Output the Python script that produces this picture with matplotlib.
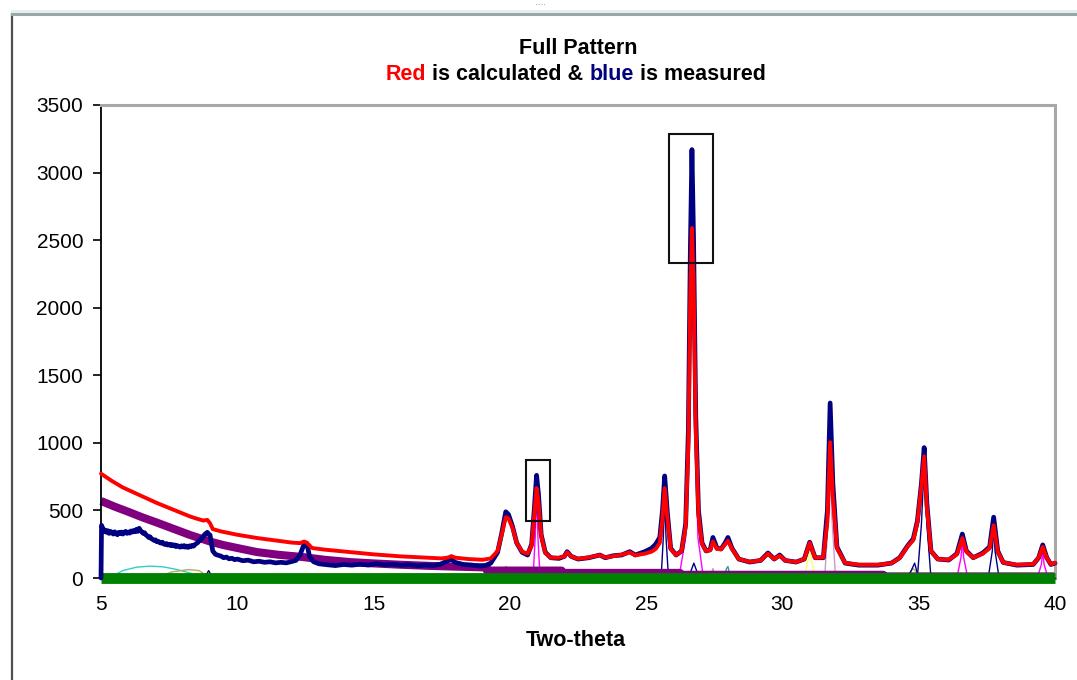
import matplotlib
matplotlib.use("Agg")
import matplotlib.pyplot as plt
from matplotlib.patches import Rectangle
from matplotlib.lines import Line2D

plt.rcParams['font.family'] = ['Liberation Sans', 'DejaVu Sans']

# ---- measured pattern (blue) ----
tt_meas = [5.00, 5.02, 5.06, 5.10, 5.15, 5.20, 5.25, 5.30, 5.35, 5.40, 5.45, 5.50, 5.55,
           5.60, 5.65, 5.70, 5.75, 5.80, 5.85, 5.90, 5.95, 6.00, 6.05, 6.10, 6.15, 6.20,
           6.25, 6.30, 6.35, 6.40, 6.45, 6.50, 6.55, 6.60, 6.65, 6.70, 6.75, 6.80, 6.85,
           6.90, 6.95, 7.00, 7.05, 7.10, 7.15, 7.20, 7.25, 7.30, 7.35, 7.40, 7.45, 7.50,
           7.55, 7.60, 7.65, 7.70, 7.75, 7.80, 7.85, 7.90, 7.95, 8.00, 8.05, 8.10, 8.15,
           8.20, 8.25, 8.30, 8.35, 8.40, 8.45, 8.50, 8.55, 8.60, 8.65, 8.70, 8.75, 8.80,
           8.85, 8.90, 8.95, 9.00, 9.05, 9.10, 9.2, 9.3, 9.4, 9.5, 9.6, 9.7, 9.8, 9.9,
           10.0, 10.2, 10.4, 10.6, 10.8, 11.0, 11.2, 11.4, 11.6, 11.8, 12.0, 12.15, 12.3,
           12.45, 12.55, 12.65, 12.8, 13.0, 13.3, 13.6, 13.9, 14.2, 14.5, 14.8, 15.1, 15.4,
           15.7, 16.0, 16.3, 16.6, 16.9, 17.2, 17.45, 17.7, 17.85, 18.0, 18.3, 18.6, 18.9,
           19.1, 19.3, 19.55, 19.7, 19.85, 19.95, 20.1, 20.25, 20.45, 20.65,
           20.8, 20.9, 20.98, 21.05, 21.15, 21.3, 21.5, 21.8, 22.0, 22.1, 22.25, 22.5, 22.9,
           23.3, 23.5, 23.8, 24.1, 24.4, 24.6, 24.95, 25.2, 25.35, 25.5, 25.6, 25.68, 25.78,
           25.9, 26.1, 26.3, 26.45, 26.55, 26.62, 26.68, 26.74, 26.82, 26.92, 27.05, 27.2,
           27.35, 27.45, 27.6, 27.75, 27.9, 28.0, 28.15, 28.4, 28.8, 29.2, 29.47, 29.7, 29.9,
           30.1, 30.5, 30.8, 31.0, 31.2, 31.5, 31.65, 31.75, 31.85, 32.0, 32.3, 32.8, 33.5,
           34.0, 34.3, 34.6, 34.8, 34.95, 35.1, 35.2, 35.3, 35.45, 35.7, 36.1, 36.4, 36.6,
           36.75, 37.0, 37.35, 37.6, 37.75, 37.9, 38.1, 38.6, 39.2, 39.4, 39.55, 39.7, 39.85,
           40.0]
i_meas = [0, 390, 370, 345, 355, 338, 350, 330, 345, 335, 325, 342, 330,
          320, 338, 328, 340, 325, 335, 345, 330, 340, 332, 348, 340, 352,
          342, 360, 345, 368, 352, 340, 330, 335, 318, 312, 300, 305, 290,
          285, 278, 282, 268, 272, 262, 258, 265, 252, 248, 255, 244, 250,
          240, 248, 238, 245, 232, 240, 235, 228, 238, 230, 240, 228, 236,
          226, 238, 232, 242, 236, 248, 255, 262, 275, 280, 298, 305, 322,
          330, 338, 325, 318, 260, 200, 175, 168, 162, 150, 155, 142, 146, 136,
          140, 128, 132, 120, 124, 116, 120, 112, 116, 112, 122, 130, 170,
          250, 255, 160, 120, 105, 98, 92, 100, 95, 102, 96, 106, 98,
          102, 94, 98, 90, 96, 92, 102, 125, 140, 115, 100, 96, 88,
          92, 110, 190, 330, 490, 470, 380, 260, 190, 170,
          250, 520, 760, 620, 320, 190, 150, 145, 160, 195, 160, 140, 150,
          170, 150, 165, 170, 195, 170, 195, 220, 250, 300, 500, 755, 480,
          220, 170, 200, 400, 1100, 2400, 3170, 2500, 1200, 500, 260, 200,
          210, 300, 220, 215, 260, 300, 220, 140, 118, 130, 185, 140, 170,
          130, 118, 140, 265, 150, 150, 500, 1295, 700, 230, 110, 95, 95,
          110, 150, 240, 290, 420, 700, 965, 550, 200, 140, 133, 180, 325,
          200, 150, 185, 230, 450, 200, 115, 95, 100, 150, 245, 150, 100,
          110]

# ---- calculated pattern (red) ----
tt_calc = [5.0, 5.4, 5.8, 6.4, 7.05, 7.6, 8.27, 8.5, 8.75, 8.9, 9.0, 9.1, 9.4, 10.0, 10.72,
           11.5, 12.0, 12.3, 12.45, 12.55, 12.74, 13.2, 14.13, 15.0, 16.0, 17.0, 17.5, 17.75,
           17.85, 18.0, 18.5, 19.0, 19.3, 19.55, 19.7, 19.85, 19.95, 20.1, 20.25, 20.45,
           20.65, 20.8, 20.9, 20.98, 21.05, 21.15, 21.3, 21.5, 21.8, 22.0, 22.1, 22.25, 22.5,
           22.9, 23.3, 23.5, 23.8, 24.1, 24.4, 24.6, 24.95, 25.2, 25.35, 25.5, 25.6, 25.68,
           25.78, 25.9, 26.1, 26.3, 26.45, 26.55, 26.62, 26.68, 26.74, 26.82, 26.92, 27.05,
           27.2, 27.35, 27.45, 27.6, 27.75, 27.9, 28.0, 28.15, 28.4, 28.8, 29.2, 29.47, 29.7,
           29.9, 30.1, 30.5, 30.8, 31.0, 31.2, 31.5, 31.65, 31.75, 31.85, 32.0, 32.3, 32.8,
           33.5, 34.0, 34.3, 34.6, 34.8, 34.95, 35.1, 35.2, 35.3, 35.45, 35.7, 36.1, 36.4,
           36.6, 36.75, 37.0, 37.35, 37.6, 37.75, 37.9, 38.1, 38.6, 39.2, 39.4, 39.55, 39.7,
           39.85, 40.0]
i_calc = [772, 718, 670, 615, 555, 510, 455, 440, 425, 430, 405, 362, 345, 320, 296,
          275, 262, 258, 270, 262, 222, 210, 192, 175, 160, 150, 145, 152,
          162, 150, 140, 135, 145, 200, 320, 450, 440, 370, 260, 195,
          180, 240, 480, 665, 560, 310, 185, 150, 150, 160, 190, 160, 142,
          152, 170, 152, 162, 172, 190, 168, 180, 195, 215, 260, 440, 665,
          440, 215, 170, 200, 380, 1000, 2100, 2590, 2200, 1100, 460, 250,
          200, 205, 270, 215, 212, 250, 275, 215, 140, 120, 130, 180, 140,
          165, 130, 118, 140, 260, 150, 152, 420, 1005, 600, 220, 112, 98,
          98, 110, 148, 235, 280, 410, 680, 900, 520, 200, 140, 135, 175,
          295, 195, 150, 180, 220, 390, 195, 115, 98, 102, 150, 230, 148,
          102, 112]

# ---- background (purple) ----
tt_bkg = [5.0, 5.5, 6.0, 6.5, 7.05, 7.5, 8.27, 9.0, 9.48, 10.0, 10.72, 11.5, 12.41, 13.2,
          14.13, 15.0, 16.0, 17.0, 18.0, 19.15, 19.16, 21.9, 21.91, 26.24, 26.25, 33.7,
          33.71, 40.0]
i_bkg = [570, 528, 490, 450, 410, 376, 318, 270, 244, 222, 192, 172, 155, 135,
         118, 108, 98, 90, 84, 78, 55, 55, 38, 38, 24, 24, 12, 12]

# ---- zero line (green) ----
tt_zero = [5.0, 40.0]
i_zero = [0, 0]

# ---- individual phase contributions ----
components = [
    ("#33CCCC", [5.3, 5.8, 6.3, 6.8, 7.3, 7.8, 8.3, 8.8], [0, 55, 80, 88, 82, 62, 35, 0]),
    ("#B8A860", [7.0, 7.6, 8.2, 8.6, 9.0], [0, 45, 62, 55, 0]),
    ("#000080", [8.8, 8.95, 9.1], [0, 55, 0]),
    ("#4F8F6F", [19.7, 19.86, 20.0], [0, 85, 0]),
    ("#FF00FF", [20.85, 20.93, 20.98, 21.03, 21.11], [0, 300, 640, 300, 0]),
    ("#000080", [25.55, 25.63, 25.68, 25.73, 25.82], [0, 300, 600, 300, 0]),
    ("#FF00FF", [26.2, 26.45, 26.6, 26.68, 26.76, 26.9, 27.1], [0, 300, 1500, 2500, 1500, 300, 0]),
    ("#000080", [26.55, 26.75, 26.95], [0, 110, 0]),
    ("#CC99CC", [27.35, 27.45, 27.55], [0, 70, 0]),
    ("#339999", [27.85, 27.95, 28.0, 28.1], [0, 70, 85, 0]),
    ("#000080", [29.8, 29.9, 30.0], [0, 45, 0]),
    ("#FFFF66", [30.8, 31.0, 31.2], [0, 200, 0]),
    ("#CC99CC", [31.55, 31.7, 31.75, 31.8, 31.95], [0, 500, 900, 500, 0]),
    ("#B8A860", [34.5, 34.8, 35.1], [0, 70, 0]),
    ("#000080", [34.6, 34.85, 35.0], [0, 110, 0]),
    ("#000080", [34.95, 35.1, 35.2, 35.3, 35.45], [0, 400, 850, 400, 0]),
    ("#FF00FF", [36.4, 36.55, 36.6, 36.65, 36.8], [0, 150, 280, 150, 0]),
    ("#000080", [37.55, 37.7, 37.75, 37.8, 37.95], [0, 200, 380, 200, 0]),
    ("#FF00FF", [39.35, 39.5, 39.55, 39.6, 39.75], [0, 100, 200, 100, 0]),
]

# highlighted peak regions: (x0, x1, y0, y1)
boxes = [(20.59, 21.47, 422, 873), (25.84, 27.45, 2332, 3286)]

x_ticks = [5, 10, 15, 20, 25, 30, 35, 40]
y_ticks = [0, 500, 1000, 1500, 2000, 2500, 3000, 3500]

W, H = 1077, 680
fig = plt.figure(figsize=(W / 100, H / 100), dpi=100)
fig.patch.set_facecolor("white")

# chart-area frame lines
fig.add_artist(Line2D([12 / W, 12 / W], [0, 1 - 14 / H], color="#505050", lw=1.6))
fig.add_artist(Line2D([12 / W, 1], [1 - 14 / H, 1 - 14 / H], color="#9aa6a8", lw=2.2))
fig.add_artist(Line2D([12 / W, 1], [1 - 11 / H, 1 - 11 / H], color="#dfeef0", lw=2.0))
fig.text(540 / W, 1 - 6 / H, "····", color="#777777", fontsize=6, ha="center", va="center")

ax = fig.add_axes([101 / W, 1 - 578 / H, (1055 - 101) / W, (578 - 105) / H])

for col, tt, ii in components:
    ax.plot(tt, ii, color=col, lw=1.0, zorder=1)

ax.plot(tt_bkg, i_bkg, color="#800080", lw=5.8, zorder=2, clip_on=False,
        solid_capstyle="butt")
ax.plot(tt_zero, i_zero, color="#008000", lw=7.8, zorder=3, clip_on=False,
        solid_capstyle="butt")
ax.plot(tt_meas, i_meas, color="#000080", lw=3.4, zorder=4, clip_on=False,
        solid_joinstyle="round", solid_capstyle="round")
ax.plot(tt_calc, i_calc, color="#FF0000", lw=2.8, zorder=5, clip_on=False,
        solid_joinstyle="round", solid_capstyle="round")

for x0, x1, y0, y1 in boxes:
    ax.add_patch(Rectangle((x0, y0), x1 - x0, y1 - y0, fill=False,
                           edgecolor="#111111", lw=1.5, zorder=6))

ax.set_xlim(5, 40)
ax.set_ylim(0, 3500)
ax.set_xticks(x_ticks)
ax.set_yticks(y_ticks)
ax.set_xticklabels([str(v) for v in x_ticks])
ax.set_yticklabels([str(v) for v in y_ticks])
ax.tick_params(axis="x", length=0, pad=12, labelsize=15)
ax.tick_params(axis="y", length=5.8, width=1.2, pad=7, labelsize=15, direction="out")

for side in ("top", "right"):
    ax.spines[side].set_color("#a8a8a8")
    ax.spines[side].set_linewidth(2.2)
ax.spines["left"].set_color("black")
ax.spines["left"].set_linewidth(1.3)
ax.spines["bottom"].set_color("black")
ax.spines["bottom"].set_linewidth(1.0)

# titles
fs_title = 15.5
fig.text(578 / W, 1 - 48 / H, "Full Pattern", fontsize=fs_title, fontweight="bold",
         ha="center", va="center")
t1 = fig.text(386 / W, 1 - 75 / H, "Red", color="#FF0000", fontsize=fs_title,
              fontweight="bold", ha="left", va="center")
t2 = ax.annotate(" is calculated & ", xy=(1, 0), xycoords=t1, va="bottom", ha="left",
                 fontsize=fs_title, fontweight="bold", color="black")
t3 = ax.annotate("blue", xy=(1, 0), xycoords=t2, va="bottom", ha="left",
                 fontsize=fs_title, fontweight="bold", color="#000080")
ax.annotate(" is measured", xy=(1, 0), xycoords=t3, va="bottom", ha="left",
            fontsize=fs_title, fontweight="bold", color="black")

fig.text(576 / W, 1 - 640 / H, "Two-theta", fontsize=15.5, fontweight="bold",
         ha="center", va="center")

fig.savefig("out.png", dpi=100)
